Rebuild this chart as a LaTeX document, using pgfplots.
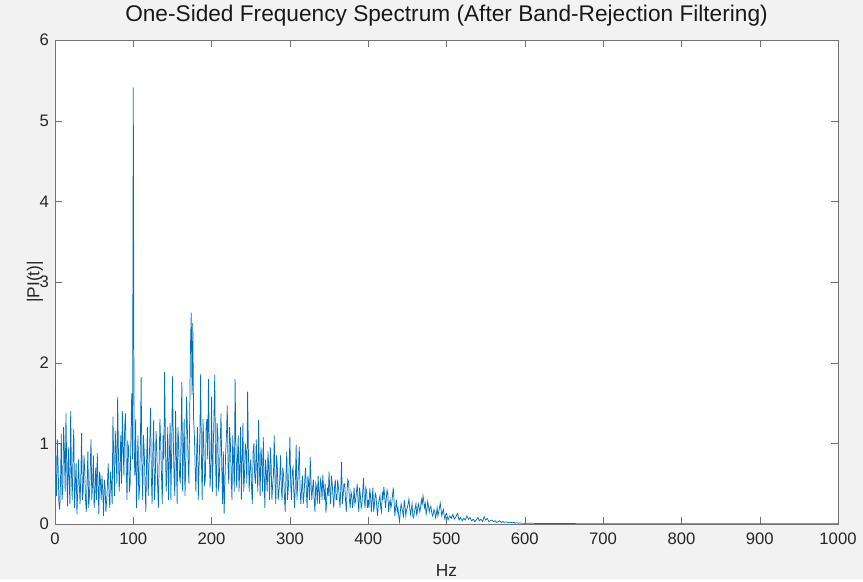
\documentclass[border=0pt]{standalone}
\usepackage{fontspec}
\setmainfont{Liberation Sans}
\usepackage{pgfplots}
\usepackage{pgfplotstable}
\pgfplotsset{compat=1.18}
\definecolor{mlblue}{HTML}{0072BD}
\pgfplotstableread{
f a
0 1.93
1 0.6
2 0.35
3 1.05
4 0.72
5 0.25
6 0.18
7 0.5
8 1.12
9 0.3
10 0.45
11 1.2
12 0.9
13 0.4
14 1.37
15 0.7
16 0.22
17 0.95
18 0.6
19 0.25
20 1.40
21 0.65
22 0.3
23 0.85
24 1.18
25 0.2
26 0.5
27 0.75
28 0.12
29 0.4
30 0.8
31 0.5
32 0.25
33 0.6
34 1.13
35 0.3
36 0.4
37 0.85
38 0.65
39 0.3
40 0.15
41 0.55
42 0.9
43 0.2
44 0.35
45 0.7
46 1.05
47 0.3
48 0.5
49 0.85
50 0.2
51 0.4
52 0.7
53 0.3
54 0.88
55 0.5
56 0.12
57 0.65
58 0.55
59 0.3
60 0.6
61 0.4
62 0.1
63 0.55
64 0.45
65 0.15
66 0.3
67 0.5
68 0.75
69 0.35
70 0.2
71 0.65
72 0.5
73 0.25
74 1.33
75 0.8
76 0.35
77 1.15
78 0.9
79 0.5
80 1.57
81 0.9
82 0.4
83 0.7
84 1.1
85 0.5
86 1.40
87 0.95
88 0.6
89 1.2
90 1.37
91 0.7
92 0.3
93 1.0
94 0.95
95 0.4
96 0.5
97 1.1
98 1.62
99 0.8
100 5.41
101 0.9
102 0.6
103 1.3
104 0.2
105 0.7
106 1.1
107 0.3
108 0.45
109 0.95
110 1.82
111 0.7
112 0.3
113 1.1
114 0.9
115 0.5
116 0.15
117 0.8
118 1.2
119 0.35
120 0.7
121 1.0
122 1.44
123 0.6
124 0.25
125 0.9
126 1.29
127 0.3
128 0.5
129 1.15
130 0.95
131 0.5
132 0.2
133 0.75
134 1.3
135 1.0
136 0.6
137 0.25
138 1.1
139 0.8
140 1.89
141 1.0
142 0.4
143 0.7
144 1.2
145 0.3
146 0.8
147 1.25
148 0.3
149 0.9
150 1.83
151 1.1
152 0.6
153 0.35
154 1.4
155 0.85
156 0.25
157 1.2
158 1.0
159 0.6
160 0.5
161 1.1
162 1.76
163 0.4
164 0.9
165 1.3
166 0.35
167 0.7
168 1.58
169 1.2
170 0.8
171 0.5
172 1.3
173 2.2
174 2.62
175 1.6
176 2.49
177 1.3
178 1.1
179 0.7
180 0.4
181 0.95
182 1.2
183 0.3
184 0.7
185 1.1
186 1.86
187 0.8
188 0.3
189 1.3
190 1.0
191 0.5
192 0.55
193 1.2
194 1.3
195 0.8
196 1.80
197 1.0
198 0.45
199 0.7
200 1.58
201 0.4
202 0.9
203 1.3
204 1.85
205 0.8
206 0.35
207 1.25
208 1.1
209 0.4
210 0.6
211 1.0
212 1.37
213 0.7
214 0.25
215 0.9
216 0.13
217 0.5
218 0.9
219 1.1
220 1.47
221 0.7
222 0.5
223 1.2
224 1.0
225 0.6
226 0.3
227 1.1
228 0.8
229 0.4
230 1.80
231 1.0
232 0.45
233 0.8
234 1.1
235 0.4
236 0.7
237 1.2
238 0.3
239 0.8
240 1.25
241 0.4
242 0.6
243 1.0
244 0.9
245 0.5
246 1.64
247 0.9
248 0.4
249 0.7
250 0.8
251 0.45
252 0.25
253 0.9
254 1.0
255 0.6
256 0.5
257 1.05
258 0.7
259 0.4
260 1.29
261 0.7
262 0.35
263 0.95
264 0.8
265 0.4
266 1.08
267 0.6
268 0.2
269 0.8
270 0.6
271 0.4
272 0.9
273 0.7
274 0.3
275 0.95
276 0.75
277 0.3
278 0.5
279 0.6
280 1.10
281 0.5
282 0.25
283 0.85
284 0.7
285 0.3
286 0.4
287 0.55
288 0.85
289 0.45
290 0.3
291 0.7
292 0.6
293 0.35
294 0.15
295 0.6
296 0.9
297 0.3
298 0.45
299 0.7
300 1.08
301 0.5
302 0.3
303 0.65
304 0.7
305 0.4
306 0.2
307 0.55
308 0.98
309 0.3
310 0.5
311 0.7
312 0.96
313 0.4
314 0.25
315 0.45
316 0.6
317 0.25
318 0.35
319 0.55
320 0.7
321 0.4
322 0.2
323 0.6
324 0.5
325 0.3
326 0.83
327 0.5
328 0.3
329 0.45
330 0.55
331 0.3
332 0.15
333 0.5
334 0.45
335 0.25
336 0.6
337 0.4
338 0.25
339 0.55
340 0.5
341 0.3
342 0.61
343 0.45
344 0.3
345 0.5
346 0.14
347 0.3
348 0.45
349 0.35
350 0.65
351 0.4
352 0.25
353 0.6
354 0.5
355 0.35
356 0.2
357 0.45
358 0.55
359 0.3
360 0.3
361 0.55
362 0.45
363 0.35
364 0.2
365 0.45
366 0.77
367 0.25
368 0.35
369 0.5
370 0.5
371 0.3
372 0.15
373 0.4
374 0.55
375 0.52
376 0.3
377 0.2
378 0.4
379 0.35
380 0.2
381 0.3
382 0.45
383 0.25
384 0.3
385 0.4
386 0.5
387 0.3
388 0.15
389 0.45
390 0.35
391 0.2
392 0.25
393 0.4
394 0.57
395 0.3
396 0.2
397 0.45
398 0.4
399 0.2
400 0.3
401 0.2
402 0.44
403 0.35
404 0.15
405 0.3
406 0.45
407 0.15
408 0.25
409 0.38
410 0.35
411 0.2
412 0.1
413 0.25
414 0.3
415 0.35
416 0.2
417 0.15
418 0.4
419 0.3
420 0.46
421 0.35
422 0.2
423 0.3
424 0.42
425 0.38
426 0.15
427 0.25
428 0.3
429 0.2
430 0.25
431 0.35
432 0.45
433 0.3
434 0.1
435 0.2
436 0.3
437 0.15
438 0.2
439 0.1
440 0.03
441 0.15
442 0.25
443 0.2
444 0.15
445 0.1
446 0.3
447 0.22
448 0.1
449 0.18
450 0.2
451 0.25
452 0.31
453 0.2
454 0.12
455 0.18
456 0.25
457 0.1
458 0.08
459 0.15
460 0.2
461 0.25
462 0.1
463 0.18
464 0.25
465 0.2
466 0.15
467 0.22
468 0.3
469 0.25
470 0.35
471 0.28
472 0.2
473 0.25
474 0.12
475 0.18
476 0.28
477 0.22
478 0.15
479 0.2
480 0.22
481 0.15
482 0.1
483 0.12
484 0.18
485 0.15
486 0.08
487 0.12
488 0.2
489 0.1
490 0.15
491 0.2
492 0.26
493 0.18
494 0.1
495 0.15
496 0.18
497 0.1
498 0.06
499 0.12
500 0.13
502 0.05
504 0.1
506 0.07
508 0.12
510 0.06
512 0.09
514 0.13
516 0.05
518 0.08
520 0.04
522 0.07
524 0.05
526 0.10
528 0.06
530 0.08
532 0.04
534 0.06
536 0.03
538 0.05
540 0.08
542 0.04
544 0.06
546 0.03
548 0.09
550 0.05
552 0.07
554 0.03
556 0.04
558 0.05
560 0.03
562 0.04
564 0.02
566 0.03
568 0.04
570 0.02
572 0.03
574 0.02
576 0.025
578 0.02
580 0.015
582 0.02
584 0.015
586 0.02
588 0.01
590 0.015
592 0.01
594 0.012
596 0.01
598 0.008
600 0.01
620 0.006
650 0.005
700 0.004
800 0.003
900 0.002
1000 0.002
}\spec
\begin{document}
\begin{tikzpicture}[x=1pt,y=1pt]
\fill[black!5] (0,0) rectangle (647.25,434.25);
\begin{axis}[
  at={(41.25pt,41.25pt)}, anchor=south west,
  scale only axis, width=587.25pt, height=363pt,
  xmin=0, xmax=1000, ymin=0, ymax=6,
  xtick={0,100,...,1000}, ytick={0,1,...,6},
  tick align=inside, major tick length=5.5pt,
  axis line style={black!55}, tick style={black!55},
  axis background/.style={fill=white},
  /pgf/number format/assume math mode=true,
  /pgf/number format/set thousands separator={},
  scaled ticks=false,
  ticklabel style={font=\fontsize{12.5}{14}\selectfont, text=black!85},
  xticklabel style={yshift=-3pt},
  yticklabel style={xshift=-1pt},
  title={One-Sided Frequency Spectrum (After Band-Rejection Filtering)},
  title style={at={(axis description cs:0.5,1)}, anchor=base, yshift=7.5pt, font=\fontsize{17}{20}\selectfont, text=black!90},
  xlabel={Hz},
  xlabel style={at={(axis description cs:0.5,0)}, anchor=base, yshift=-39.75pt, font=\fontsize{13}{15}\selectfont, text=black!85},
  ylabel={|PI(t)|},
  ylabel style={at={(axis description cs:-0.0255,0.5)}, anchor=center, font=\fontsize{13}{15}\selectfont, text=black!85},
]
\addplot[mlblue, line width=0.55pt, mark=none] table[x=f, y=a] {\spec};
\end{axis}
\end{tikzpicture}
\end{document}
